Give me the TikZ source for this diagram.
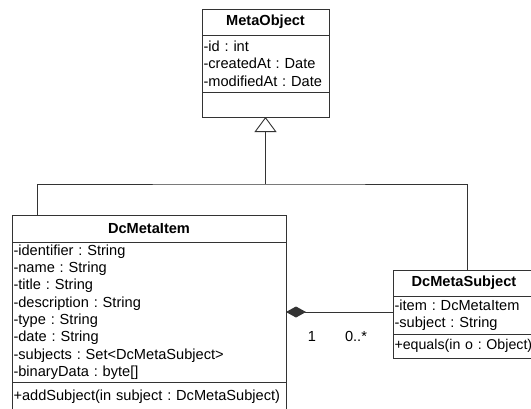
\documentclass[tikz,border=0pt]{standalone}
\usepackage{fontspec}
\setmainfont{Liberation Sans}
\usetikzlibrary{positioning, arrows.meta}

\begin{document}
\begin{tikzpicture}[
        x=1pt, y=-1pt,
        node distance=0pt,
        every node/.style={font=\fontsize{14.6}{17.3}\selectfont\frenchspacing},
        box/.style={draw=black!80, line width=0.9pt, fill=white, outer sep=0pt},
        clsname/.style={box, font=\fontsize{14.6}{17.3}\selectfont\bfseries, inner sep=0pt},
        members/.style={box, align=left, inner xsep=1.5pt, inner ysep=0pt},
        mult/.style={inner sep=0pt},
        link/.style={draw=black!80, line width=0.9pt},
        gen/.style={link, -{Triangle[open, length=15pt, width=22pt]}},
        comp/.style={link, {Diamond[length=20pt, width=11pt]}-}
    ]

    \useasboundingbox (0,0) rectangle (531,408);
    \clip (0,0) rectangle (531,408);

    % Base class
    \node[clsname, anchor=north west, minimum width=127pt, minimum height=26pt] (metaname) at (202,9) {MetaObject};
    \node[members, text width=124pt, minimum height=57pt, below=of metaname] (metaattr) {-id : int\\-createdAt : Date\\-modifiedAt : Date};
    \node[members, text width=124pt, minimum height=25pt, below=of metaattr] (metaops) {};

    % DcMetaItem
    \node[clsname, anchor=north west, minimum width=274pt, minimum height=27pt] (itemname) at (12,215) {DcMetaItem};
    \node[members, text width=271pt, minimum height=140pt, below=of itemname] (itemattr) {-identifier : String\\-name : String\\-title : String\\-description : String\\-type : String\\-date : String\\-subjects : Set<DcMetaSubject>\\-binaryData : byte[]};
    \node[members, text width=271pt, minimum height=30pt, below=of itemattr] (itemops) {+addSubject(in subject : DcMetaSubject)};

    % DcMetaSubject (runs past the right border)
    \node[clsname, anchor=north west, minimum width=152pt, minimum height=26pt] (subjname) at (393,270) {\hspace*{-10pt}DcMetaSubject};
    \node[members, text width=149pt, minimum height=38pt, below=of subjname] (subjattr) {-item : DcMetaItem\\-subject : String};
    \node[members, text width=149pt, minimum height=24pt, inner xsep=1pt, below=of subjattr, font=\fontsize{14.2}{17.3}\selectfont\frenchspacing] (subjops) {+equals(in o : Object)};

    % Generalization
    \coordinate (join) at (265.5,184);
    \coordinate (itemtop) at (37,215);
    \coordinate (subjtop) at (467,270);
    \draw[link] (itemtop) |- (join) -| (subjtop);
    \draw[gen] (join) -- (metaops.south);

    % Composition
    \draw[comp] (itemattr.east) -- (itemattr.east -| subjattr.west);
    \node[mult] (one) at (312,336) {1};
    \node[mult] (many) at (356,336) {0..*};

\end{tikzpicture}
\end{document}
